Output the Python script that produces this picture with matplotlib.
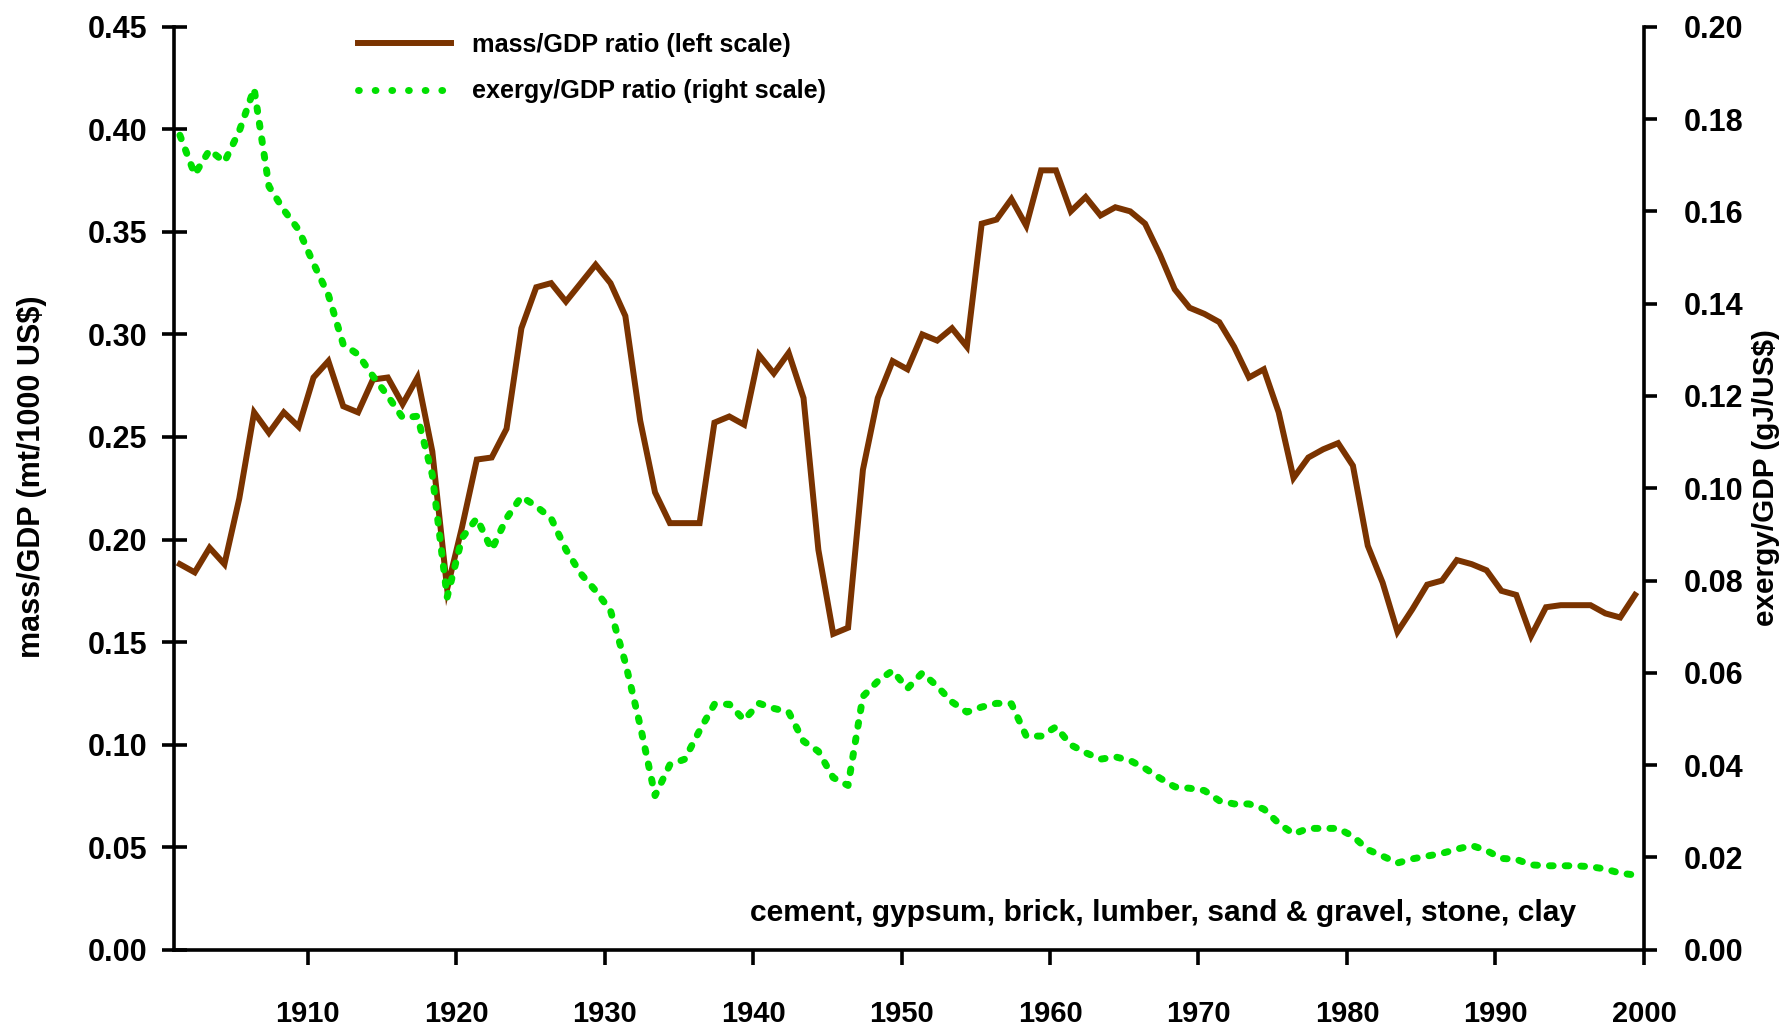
import numpy as np
import matplotlib
matplotlib.use("Agg")
import matplotlib.pyplot as plt
from matplotlib.lines import Line2D

plt.rcParams['font.family'] = ['Liberation Sans', 'DejaVu Sans']
plt.rcParams['font.weight'] = 'bold'
plt.rcParams['lines.scale_dashes'] = False

# years 1901-1999
years = np.arange(1901, 2000)

# mass/GDP ratio, mt per 1000 US$ (left scale)
mass_gdp = [
    0.188, 0.184, 0.196, 0.188, 0.220, 0.262, 0.252, 0.262, 0.255, 0.279,   # 1901-1910
    0.287, 0.265, 0.262, 0.278, 0.279, 0.266, 0.279, 0.243, 0.176, 0.206,   # 1911-1920
    0.239, 0.240, 0.254, 0.303, 0.323, 0.325, 0.316, 0.325, 0.334, 0.325,   # 1921-1930
    0.309, 0.258, 0.223, 0.208, 0.208, 0.208, 0.257, 0.260, 0.256, 0.290,   # 1931-1940
    0.281, 0.291, 0.269, 0.195, 0.154, 0.157, 0.234, 0.269, 0.287, 0.283,   # 1941-1950
    0.300, 0.297, 0.303, 0.294, 0.354, 0.356, 0.366, 0.353, 0.380, 0.380,   # 1951-1960
    0.360, 0.367, 0.358, 0.362, 0.360, 0.354, 0.339, 0.322, 0.313, 0.310,   # 1961-1970
    0.306, 0.294, 0.279, 0.283, 0.262, 0.230, 0.240, 0.244, 0.247, 0.236,   # 1971-1980
    0.197, 0.179, 0.155, 0.166, 0.178, 0.180, 0.190, 0.188, 0.185, 0.175,   # 1981-1990
    0.173, 0.153, 0.167, 0.168, 0.168, 0.168, 0.164, 0.162, 0.173,          # 1991-1999
]

# exergy/GDP ratio, gJ per US$ (right scale)
exergy_gdp = [
    0.1765, 0.168, 0.1733, 0.1707, 0.1774, 0.1866, 0.1654, 0.1603, 0.156, 0.1487,   # 1901-1910
    0.1419, 0.1312, 0.129, 0.1243, 0.120, 0.1153, 0.1156, 0.1029, 0.0764, 0.0892,   # 1911-1920
    0.0935, 0.0867, 0.0935, 0.0982, 0.0961, 0.0935, 0.0867, 0.0815, 0.0778, 0.0735, # 1921-1930
    0.0622, 0.0486, 0.0334, 0.0401, 0.0413, 0.0475, 0.0532, 0.0532, 0.0498, 0.0534, # 1931-1940
    0.0523, 0.0515, 0.0452, 0.043, 0.0373, 0.0356, 0.0549, 0.0582, 0.0605, 0.0566,  # 1941-1950
    0.060, 0.0571, 0.0537, 0.0515, 0.0526, 0.0534, 0.0533, 0.0463, 0.0463, 0.0483,  # 1951-1960
    0.0444, 0.0427, 0.0413, 0.0418, 0.041, 0.0393, 0.0372, 0.0353, 0.035, 0.0345,   # 1961-1970
    0.0323, 0.0316, 0.0316, 0.0305, 0.0274, 0.0251, 0.0263, 0.0263, 0.0263, 0.0246, # 1971-1980
    0.0217, 0.0203, 0.0188, 0.0197, 0.0203, 0.0209, 0.0218, 0.0226, 0.0215, 0.0198, # 1981-1990
    0.0196, 0.0184, 0.0182, 0.0182, 0.0182, 0.018, 0.0175, 0.0166, 0.0162,          # 1991-1999
]

left_ticks = np.arange(0, 0.451, 0.05)
right_ticks = np.arange(0, 0.201, 0.02)
x_ticks = np.arange(1910, 2001, 10)

brown = '#7A3300'
green = '#00E000'

fig = plt.figure(figsize=(17.84, 10.29), dpi=100)
ax = fig.add_axes([0.0975, 0.077, 0.824, 0.897])
ax2 = ax.twinx()

# points sit between the year ticks, as in the original
xpos = years + 0.4
ax.plot(xpos, mass_gdp, color=brown, linewidth=4.3, solid_joinstyle='miter')
ax2.plot(xpos, exergy_gdp, color=green, linewidth=5,
         dashes=(2.7, 8.6), dash_capstyle='round')

ax.set_xlim(1901, 2000)
ax.set_ylim(0, 0.45)
ax2.set_ylim(0, 0.20)

ax.set_xticks(x_ticks)
ax.set_xticklabels([str(y) for y in x_ticks])
ax.set_yticks(left_ticks)
ax.set_yticklabels([f"{v:.2f}" for v in left_ticks])
ax2.set_yticks(right_ticks)
ax2.set_yticklabels([f"{v:.2f}" for v in right_ticks])

for a in (ax, ax2):
    a.spines['top'].set_visible(False)
    for s in a.spines.values():
        s.set_linewidth(2.6)

ax.spines['right'].set_visible(False)
ax2.spines['left'].set_visible(False)
ax2.spines['bottom'].set_visible(False)

ax.tick_params(axis='y', direction='inout', length=18, width=2.6,
               labelsize=22, pad=10)
ax.tick_params(axis='x', direction='out', length=11, width=2.6,
               labelsize=21, pad=25)
ax2.tick_params(axis='y', direction='out', length=9, width=2.6,
                labelsize=22, pad=20)

ax.set_ylabel('mass/GDP (mt/1000 US$)', fontsize=22, fontweight='bold', labelpad=29.5)
ax2.set_ylabel('exergy/GDP (gJ/US$)', fontsize=21.4, fontweight='bold', labelpad=5.5)
# both axis titles sit a little above the middle of the axes
ax.yaxis.label.set_y(0.512)
ax2.yaxis.label.set_y(0.512)

ax.text(0.954, 0.031, 'cement, gypsum, brick, lumber, sand & gravel, stone, clay',
        transform=ax.transAxes, ha='right', va='baseline', fontsize=21.6, fontweight='bold')

handles = [
    Line2D([], [], color=brown, linewidth=4.3),
    Line2D([], [], color=green, linewidth=5, dashes=(0.6, 11.4), dash_capstyle='round'),
]
ax2.legend(handles, ['mass/GDP ratio (left scale)', 'exergy/GDP ratio (right scale)'],
           loc='upper left', bbox_to_anchor=(0.1935, 0.98), bbox_transform=fig.transFigure,
           frameon=False, handlelength=3.7, handletextpad=0.8, borderpad=0,
           labelspacing=0.88, prop={'weight': 'bold', 'size': 18.2})

fig.savefig('out.png', dpi=100)
